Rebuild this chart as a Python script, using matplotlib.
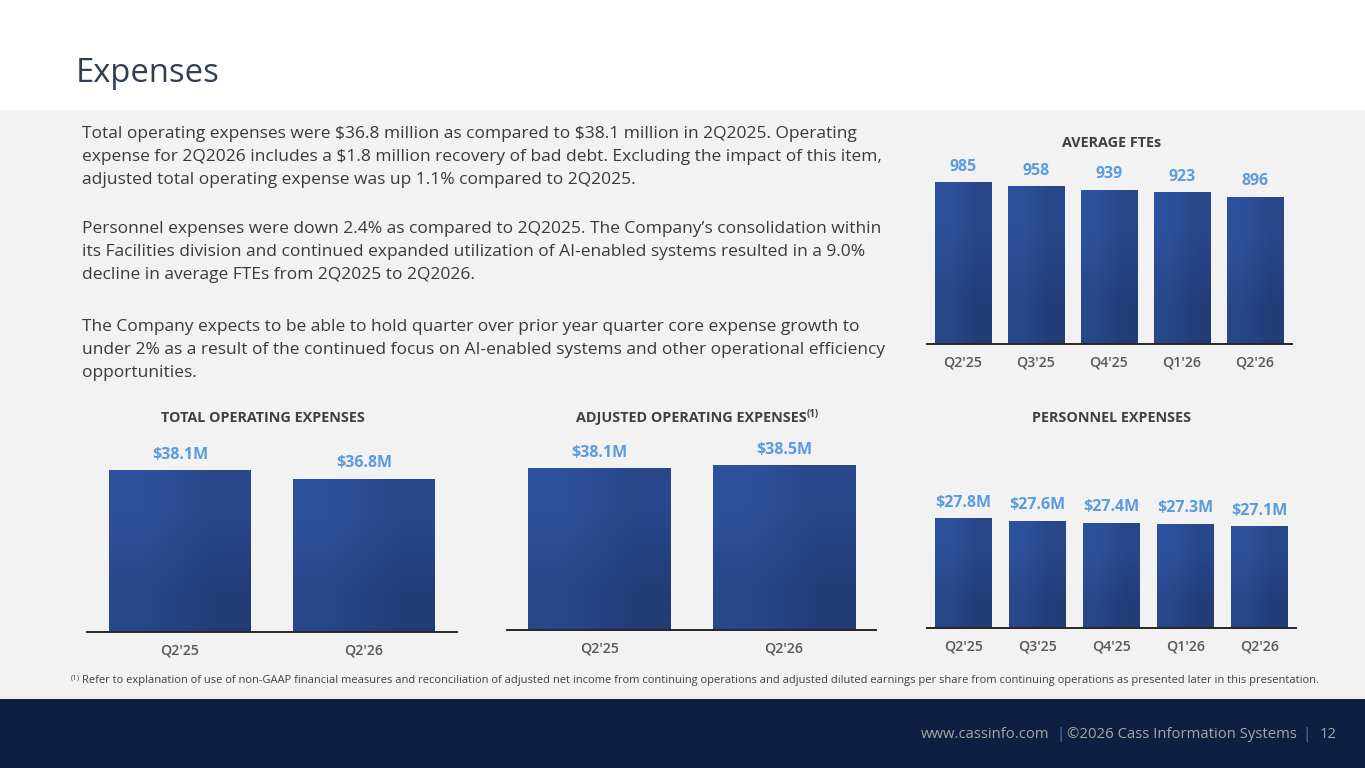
import matplotlib
matplotlib.use("Agg")
import numpy as np
import matplotlib.pyplot as plt
from matplotlib.patches import Rectangle

# chart data
fte_quarters = ["Q2'25", "Q3'25", "Q4'25", "Q1'26", "Q2'26"]
fte_values = [985, 958, 939, 923, 896]

opex_quarters = ["Q2'25", "Q2'26"]
total_opex = [38.1, 36.8]
adjusted_opex = [38.1, 38.5]

personnel_quarters = ["Q2'25", "Q3'25", "Q4'25", "Q1'26", "Q2'26"]
personnel_exp = [27.8, 27.6, 27.4, 27.3, 27.1]

body_lines = [
    "Total operating expenses were $36.8 million as compared to $38.1 million in 2Q2025. Operating",
    "expense for 2Q2026 includes a $1.8 million recovery of bad debt. Excluding the impact of this item,",
    "adjusted total operating expense was up 1.1% compared to 2Q2025.",
    "Personnel expenses were down 2.4% as compared to 2Q2025. The Company\u2019s consolidation within",
    "its Facilities division and continued expanded utilization of AI-enabled systems resulted in a 9.0%",
    "decline in average FTEs from 2Q2025 to 2Q2026.",
    "The Company expects to be able to hold quarter over prior year quarter core expense growth to",
    "under 2% as a result of the continued focus on AI-enabled systems and other operational efficiency",
    "opportunities.",
]
body_y = [134, 157, 180, 229, 252, 275, 327, 350, 373]

footnote = ("Refer to explanation of use of non-GAAP financial measures and reconciliation of adjusted "
            "net income from continuing operations and adjusted diluted earnings per share from "
            "continuing operations as presented later in this presentation.")

plt.rcParams["font.family"] = ["Open Sans", "DejaVu Sans"]

W, H = 1365, 768
fig = plt.figure(figsize=(W / 100, H / 100), dpi=100)
fig.patch.set_facecolor("white")


def fx(x):
    return x / W


def fy(y):
    return 1 - y / H


# slide background bands
fig.add_artist(Rectangle((0, fy(699)), 1, fy(110) - fy(699), transform=fig.transFigure,
                         facecolor="#F2F2F2", edgecolor="none", zorder=-5))
fig.add_artist(Rectangle((0, 0), 1, fy(699), transform=fig.transFigure,
                         facecolor="#0E1F42", edgecolor="none", zorder=-5))

fig.text(fx(76), fy(74), "Expenses", fontsize=23.6, color="#323E55", va="center", ha="left")

for line, y in zip(body_lines, body_y):
    fig.text(fx(82), fy(y), line, fontsize=12.5, color="#3A3A3A", va="center", ha="left",
             parse_math=False)

BAR_LIGHT = np.array([0x2D, 0x52, 0x9D]) / 255
BAR_DARK = np.array([0x22, 0x3C, 0x78]) / 255
LABEL_BLUE = "#5B9BE0"


def bar_chart(left, top, right, baseline, cats, vals, labels, ylo, yhi, xlo, xhi, width=0.77):
    ax = fig.add_axes([fx(left), fy(baseline), (right - left) / W, (baseline - top) / H])
    ax.set_facecolor("none")
    x = np.arange(len(vals))
    bars = ax.bar(x, vals, width=width, color="#27478A", zorder=2)
    mid = (BAR_LIGHT + BAR_DARK) / 2
    grad = np.array([[BAR_LIGHT, mid], [mid, BAR_DARK]])
    for b in bars:
        x0 = b.get_x()
        ax.imshow(grad, extent=[x0, x0 + b.get_width(), ylo, b.get_height()],
                  aspect="auto", interpolation="bilinear", zorder=3)
    for xi, v, lab in zip(x, vals, labels):
        ax.annotate(lab, (xi, v), xytext=(0, 11.5), textcoords="offset points",
                    ha="center", va="center", fontsize=11.5, fontweight="bold",
                    color=LABEL_BLUE, parse_math=False, annotation_clip=False)
    ax.set_xlim(xlo, xhi)
    ax.set_ylim(ylo, yhi)
    for s in ["top", "left", "right"]:
        ax.spines[s].set_visible(False)
    ax.spines["bottom"].set_color("#262626")
    ax.spines["bottom"].set_linewidth(1.4)
    ax.spines["bottom"].set_zorder(5)
    ax.set_yticks([])
    ax.set_xticks(x, cats)
    ax.tick_params(axis="x", length=0, pad=8, labelsize=10.2, labelcolor="#595959")
    for t in ax.get_xticklabels():
        t.set_fontweight("semibold")
    return ax


bar_chart(927, 130, 1292, 344, fte_quarters, fte_values, [str(v) for v in fte_values],
          0, 1305, -0.49, 4.51)
bar_chart(87, 430, 457, 632, opex_quarters, total_opex, ["$%.1fM" % v for v in total_opex],
          14, 44.15, -0.505, 1.505)
bar_chart(507, 430, 876, 630, opex_quarters, adjusted_opex, ["$%.1fM" % v for v in adjusted_opex],
          14, 43.85, -0.501, 1.499)
bar_chart(927, 430, 1296, 628, personnel_quarters, personnel_exp,
          ["$%.1fM" % v for v in personnel_exp], 18.2, 35.6, -0.494, 4.496)

title_kw = dict(fontsize=10.4, fontweight="bold", color="#404040", va="center")
fig.text(fx(1112), fy(143), "AVERAGE FTEs", ha="center", **title_kw)
fig.text(fx(263), fy(418), "TOTAL OPERATING EXPENSES", ha="center", **title_kw)
fig.text(fx(807), fy(418), "ADJUSTED OPERATING EXPENSES", ha="right", **title_kw)
fig.text(fx(807), fy(414), "(1)", fontsize=7, fontweight="bold", color="#404040",
         ha="left", va="center")
fig.text(fx(1112), fy(418), "PERSONNEL EXPENSES", ha="center", **title_kw)

# footnote, shrunk to span the same width as on the slide
fig.text(fx(71), fy(678), "(1)", fontsize=5.5, color="#404040", ha="left", va="center")
fn = fig.text(fx(82), fy(681), footnote, fontsize=9, color="#404040", ha="left", va="center")
renderer = fig.canvas.get_renderer()
fn_w = fn.get_window_extent(renderer).width
fn.set_fontsize(9 * (1323 - 82) / fn_w)

# footer
foot_kw = dict(fontsize=10.7, color="#A6A6A6", va="center")
fig.text(fx(1337), fy(735), "12", ha="right", **foot_kw)
fig.text(fx(1307), fy(734), "|", ha="center", fontsize=11, color="#4F81BD", va="center")
fig.text(fx(1297), fy(735), "\u00a92026 Cass Information Systems", ha="right", **foot_kw)
fig.text(fx(1061), fy(734), "|", ha="center", fontsize=11, color="#4F81BD", va="center")
fig.text(fx(1049), fy(735), "www.cassinfo.com", ha="right", **foot_kw)

fig.savefig("out.png", dpi=100, facecolor=fig.get_facecolor())
